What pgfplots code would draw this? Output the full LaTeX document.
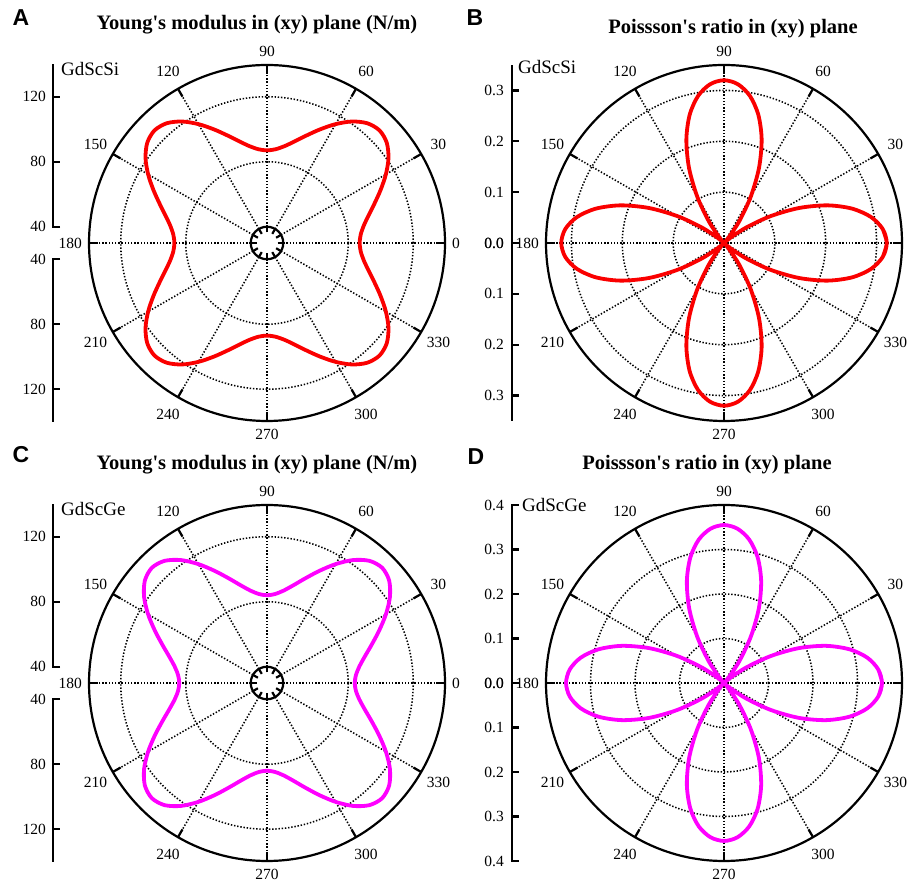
\documentclass[border=0pt]{standalone}
\usepackage{pgfplots}
\pgfplotsset{compat=1.18}
\usepackage{pgfplotstable}
\usepackage{fontspec}
\setmainfont{Liberation Serif}
\newfontfamily\sansb{Liberation Sans}
\definecolor{mag}{RGB}{255,0,255}
\definecolor{rd}{RGB}{250,0,0}

\pgfplotstableread{
a   EA     nuB    EC     nuD
-5  87.85  0.3134 84.91  0.3480
0   87.00  0.3200 84.00  0.3550
5   87.85  0.3134 84.91  0.3480
10  90.38  0.2936 87.64  0.3271
15  94.57  0.2609 92.18  0.2922
20  100.26 0.2164 98.44  0.2441
25  107.11 0.1628 106.10 0.1853
30  114.47 0.1053 114.48 0.1210
35  121.27 0.0522 122.35 0.0605
40  126.15 0.0140 128.11 0.0163
45  127.94 0.0000 130.23 0.0000
50  126.15 0.0140 128.11 0.0163
55  121.27 0.0522 122.35 0.0605
60  114.47 0.1053 114.48 0.1210
65  107.11 0.1628 106.10 0.1853
70  100.26 0.2164 98.44  0.2441
75  94.57  0.2609 92.18  0.2922
80  90.38  0.2936 87.64  0.3271
85  87.85  0.3134 84.91  0.3480
90  87.00  0.3200 84.00  0.3550
95  87.85  0.3134 84.91  0.3480
100 90.38  0.2936 87.64  0.3271
105 94.57  0.2609 92.18  0.2922
110 100.26 0.2164 98.44  0.2441
115 107.11 0.1628 106.10 0.1853
120 114.47 0.1053 114.48 0.1210
125 121.27 0.0522 122.35 0.0605
130 126.15 0.0140 128.11 0.0163
135 127.94 0.0000 130.23 0.0000
140 126.15 0.0140 128.11 0.0163
145 121.27 0.0522 122.35 0.0605
150 114.47 0.1053 114.48 0.1210
155 107.11 0.1628 106.10 0.1853
160 100.26 0.2164 98.44  0.2441
165 94.57  0.2609 92.18  0.2922
170 90.38  0.2936 87.64  0.3271
175 87.85  0.3134 84.91  0.3480
180 87.00  0.3200 84.00  0.3550
185 87.85  0.3134 84.91  0.3480
190 90.38  0.2936 87.64  0.3271
195 94.57  0.2609 92.18  0.2922
200 100.26 0.2164 98.44  0.2441
205 107.11 0.1628 106.10 0.1853
210 114.47 0.1053 114.48 0.1210
215 121.27 0.0522 122.35 0.0605
220 126.15 0.0140 128.11 0.0163
225 127.94 0.0000 130.23 0.0000
230 126.15 0.0140 128.11 0.0163
235 121.27 0.0522 122.35 0.0605
240 114.47 0.1053 114.48 0.1210
245 107.11 0.1628 106.10 0.1853
250 100.26 0.2164 98.44  0.2441
255 94.57  0.2609 92.18  0.2922
260 90.38  0.2936 87.64  0.3271
265 87.85  0.3134 84.91  0.3480
270 87.00  0.3200 84.00  0.3550
275 87.85  0.3134 84.91  0.3480
280 90.38  0.2936 87.64  0.3271
285 94.57  0.2609 92.18  0.2922
290 100.26 0.2164 98.44  0.2441
295 107.11 0.1628 106.10 0.1853
300 114.47 0.1053 114.48 0.1210
305 121.27 0.0522 122.35 0.0605
310 126.15 0.0140 128.11 0.0163
315 127.94 0.0000 130.23 0.0000
320 126.15 0.0140 128.11 0.0163
325 121.27 0.0522 122.35 0.0605
330 114.47 0.1053 114.48 0.1210
335 107.11 0.1628 106.10 0.1853
340 100.26 0.2164 98.44  0.2441
345 94.57  0.2609 92.18  0.2922
350 90.38  0.2936 87.64  0.3271
355 87.85  0.3134 84.91  0.3480
360 87.00  0.3200 84.00  0.3550
365 87.85  0.3134 84.91  0.3480
}\data

\newcommand{\lbl}{\fontsize{15.5}{17}\selectfont}
\newcommand{\ttl}{\fontsize{20.5}{22}\selectfont\bfseries}
\newcommand{\mat}{\fontsize{19}{21}\selectfont}
\newcommand{\q}{\textquotesingle}
\tikzset{
  dotl/.style={black, line width=1.55pt, dash pattern=on 1.4pt off 1.8pt},
  sol/.style={black, line width=2.2pt},
}
\newcommand{\anglelabels}[1]{%
  #1
  \node[anchor=east,inner sep=0pt] at (-185,0) {\lbl 180};
  \node[anchor=south,inner sep=0pt] at (0,186) {\lbl 90};
  \node[anchor=north,inner sep=0pt] at (0,-186) {\lbl 270};
  \foreach \t in {30,60,120,150,210,240,300,330}
    \node[inner sep=0pt] at (\t:198pt) {\lbl\t};
}
\newcommand{\outerring}{%
  \draw[sol] (0,0) circle[radius=178pt];
  \foreach \t in {0,30,...,330} \draw[sol] (\t:169pt) -- (\t:178pt);
}
\newcommand{\spokes}[1]{%
  \foreach \t in {0,30,...,330} \draw[dotl] (\t:#1pt) -- (\t:177pt);
}

\begin{document}
\begin{tikzpicture}[x=1pt,y=1pt]
\path[use as bounding box] (0,0) rectangle (909,885);

% ---------- panel letters and titles
\node[inner sep=0pt] at (21,867) {\sansb\bfseries\fontsize{23}{25}\selectfont A};
\node[inner sep=0pt] at (475,867) {\sansb\bfseries\fontsize{23}{25}\selectfont B};
\node[inner sep=0pt] at (21,430) {\sansb\bfseries\fontsize{23}{25}\selectfont C};
\node[inner sep=0pt] at (476,428) {\sansb\bfseries\fontsize{23}{25}\selectfont D};
\node[inner sep=0pt] at (257,860) {\ttl Young\q s modulus in (xy) plane (N/m)};
\node[inner sep=0pt] at (733,856) {\ttl Poissson\q s ratio in (xy) plane};
\node[inner sep=0pt] at (257,420) {\ttl Young\q s modulus in (xy) plane (N/m)};
\node[inner sep=0pt] at (707,420) {\ttl Poissson\q s ratio in (xy) plane};

% ---------- panels A and C (Young's modulus, radial 40..140, hole)
\foreach \cy/\mname in {642/GdScSi, 202/GdScGe}{
\begin{scope}[shift={(267,\cy)}]
  \spokes{16.25}
  \draw[dotl] (0,0) circle[radius=81.25pt];
  \draw[dotl] (0,0) circle[radius=146.25pt];
  \draw[sol] (0,0) circle[radius=16.25pt];
  \foreach \t in {0,30,...,330} \draw[sol] (\t:10.5pt) -- (\t:16.25pt);
  \outerring
  \anglelabels{\node[anchor=west,inner sep=0pt] at (185,0) {\lbl 0};}
  \draw[sol] (-207,16.25) -- (-214,16.25) -- (-214,178.75);
  \draw[sol] (-214,81.25) -- (-207,81.25);
  \draw[sol] (-214,146.25) -- (-207,146.25);
  \draw[sol] (-207,-16.25) -- (-214,-16.25) -- (-214,-178.75);
  \draw[sol] (-214,-81.25) -- (-207,-81.25);
  \draw[sol] (-214,-146.25) -- (-207,-146.25);
  \foreach \y/\v in {16.25/40, 81.25/80, 146.25/120}{
    \node[anchor=east,inner sep=0pt] at (-221,\y) {\lbl\v};
    \node[anchor=east,inner sep=0pt] at (-221,-\y) {\lbl\v};
  }
  \node[anchor=west,inner sep=0pt] at (-206,174) {\mat\mname};
\end{scope}
}

% ---------- panel B (Poisson, 0..0.35)
\begin{scope}[shift={(724,642)}]
  \spokes{0}
  \foreach \r in {50.86,101.71,152.57} \draw[dotl] (0,0) circle[radius=\r pt];
  \outerring
  \anglelabels{}
  \draw[sol] (-212,-178) -- (-212,178);
  \foreach \y/\v in {0/0.0, 50.86/0.1, 101.71/0.2, 152.57/0.3}{
    \draw[sol] (-212,\y) -- (-205,\y);
    \draw[sol] (-212,-\y) -- (-205,-\y);
    \node[anchor=east,inner sep=0pt] at (-220,\y) {\lbl\v};
    \node[anchor=east,inner sep=0pt] at (-220,-\y) {\lbl\v};
  }
  \node[anchor=west,inner sep=0pt] at (-206,176) {\mat GdScSi};
\end{scope}

% ---------- panel D (Poisson, 0..0.4)
\begin{scope}[shift={(724,202)}]
  \spokes{0}
  \foreach \r in {44.5,89,133.5} \draw[dotl] (0,0) circle[radius=\r pt];
  \outerring
  \anglelabels{}
  \draw[sol] (-205,178) -- (-212,178) -- (-212,-178) -- (-205,-178);
  \foreach \y/\v in {0/0.0, 44.5/0.1, 89/0.2, 133.5/0.3, 178/0.4}{
    \draw[sol] (-212,\y) -- (-205,\y);
    \draw[sol] (-212,-\y) -- (-205,-\y);
    \node[anchor=east,inner sep=0pt] at (-220,\y) {\lbl\v};
    \node[anchor=east,inner sep=0pt] at (-220,-\y) {\lbl\v};
  }
  \node[anchor=west,inner sep=0pt] at (-202,178) {\mat GdScGe};
\end{scope}

% ---------- the data curves, through one pgfplots axis in page units
\begin{axis}[at={(0,0)}, anchor=south west, x=1pt, y=1pt,
  xmin=0, xmax=909, ymin=0, ymax=885, hide axis, clip=false]
\addplot[rd, line width=3.8pt, smooth, line join=round] table[
  x expr={267+1.625*(\thisrow{EA}-30)*cos(\thisrow{a})},
  y expr={642+1.625*(\thisrow{EA}-30)*sin(\thisrow{a})}] {\data};
\addplot[rd, line width=3.8pt, smooth, line join=round] table[
  x expr={724+508.57*\thisrow{nuB}*cos(\thisrow{a})},
  y expr={642+508.57*\thisrow{nuB}*sin(\thisrow{a})}] {\data};
\addplot[mag, line width=3.8pt, smooth, line join=round] table[
  x expr={267+1.625*(\thisrow{EC}-30)*cos(\thisrow{a})},
  y expr={202+1.625*(\thisrow{EC}-30)*sin(\thisrow{a})}] {\data};
\addplot[mag, line width=3.8pt, smooth, line join=round] table[
  x expr={724+445*\thisrow{nuD}*cos(\thisrow{a})},
  y expr={202+445*\thisrow{nuD}*sin(\thisrow{a})}] {\data};
\end{axis}
\end{tikzpicture}
\end{document}
